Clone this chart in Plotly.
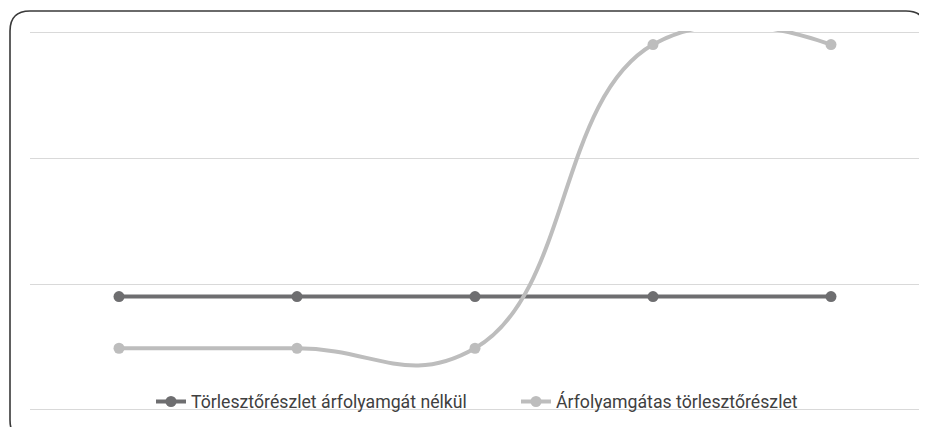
import plotly.graph_objects as go

categories = ["1", "2", "3", "4", "5"]
series_names = ["Törlesztőrészlet árfolyamgát nélkül", "Árfolyamgátas törlesztőrészlet"]
fixed_values = [45, 45, 45, 45, 45]
fx_values = [24.5, 24.5, 24.5, 145, 145]
y_ticks = [0, 50, 100, 150]

OFF = 8  # page body margin
W, H = 927 - OFF, 427 - OFF
# plot area in page pixels: x 30..920, y 31..411
px_l, px_r, px_t, px_b = 30, 920, 31, 411
ml, mt = px_l - OFF, px_t - OFF
mr, mb = W - (px_r - OFF), H - (px_b - OFF)
pw, ph = px_r - px_l, px_b - px_t
ymin, ymax = -0.4, 150.4

fig = go.Figure()
fig.add_trace(go.Scatter(
    x=categories, y=fixed_values, name=series_names[0], mode="lines+markers",
    line=dict(color="#6e6e70", width=4, shape="spline"),
    marker=dict(color="#6e6e70", size=11),
))
fig.add_trace(go.Scatter(
    x=categories, y=fx_values, name=series_names[1], mode="lines+markers",
    line=dict(color="#bdbdbd", width=4, shape="spline", smoothing=1.3),
    marker=dict(color="#bdbdbd", size=11),
))

def P(x, y):
    a = (x - px_l) / pw
    b = (px_b - y) / ph
    return f"{a:.5f},{b:.5f}"

x0, y0 = 10, 11
x1, y1 = 926, 440
r = 20
path = (f"M {P(x0 + r, y0)} L {P(x1 - r, y0)} Q {P(x1, y0)} {P(x1, y0 + r)} "
        f"L {P(x1, y1 - r)} Q {P(x1, y1)} {P(x1 - r, y1)} L {P(x0 + r, y1)} "
        f"Q {P(x0, y1)} {P(x0, y1 - r)} L {P(x0, y0 + r)} Q {P(x0, y0)} {P(x0 + r, y0)} Z")
fig.add_shape(type="path", path=path, xref="paper", yref="paper",
              line=dict(color="#3a3a3a", width=1.6), layer="above")

fig.update_layout(
    width=W, height=H,
    margin=dict(l=ml, r=mr, t=mt, b=mb, autoexpand=False),
    paper_bgcolor="white", plot_bgcolor="white",
    font=dict(family="Roboto, sans-serif", size=15, color="#404040"),
    showlegend=True,
    legend=dict(orientation="h", x=(151 - px_l) / pw, xanchor="left", y=-0.025, yanchor="bottom",
                bgcolor="rgba(0,0,0,0)", font=dict(size=17.7), itemwidth=30,
                entrywidth=320, entrywidthmode="pixels"),
    xaxis=dict(type="category", range=[-0.5, 4.5], showgrid=False, showticklabels=False,
               showline=False, zeroline=False, ticks=""),
    yaxis=dict(range=[ymin, ymax], tickvals=y_ticks, showgrid=True, gridcolor="#d9d9d9",
               gridwidth=1, showticklabels=False, zeroline=False, showline=False, ticks=""),
)

fig.write_html("out.html")
